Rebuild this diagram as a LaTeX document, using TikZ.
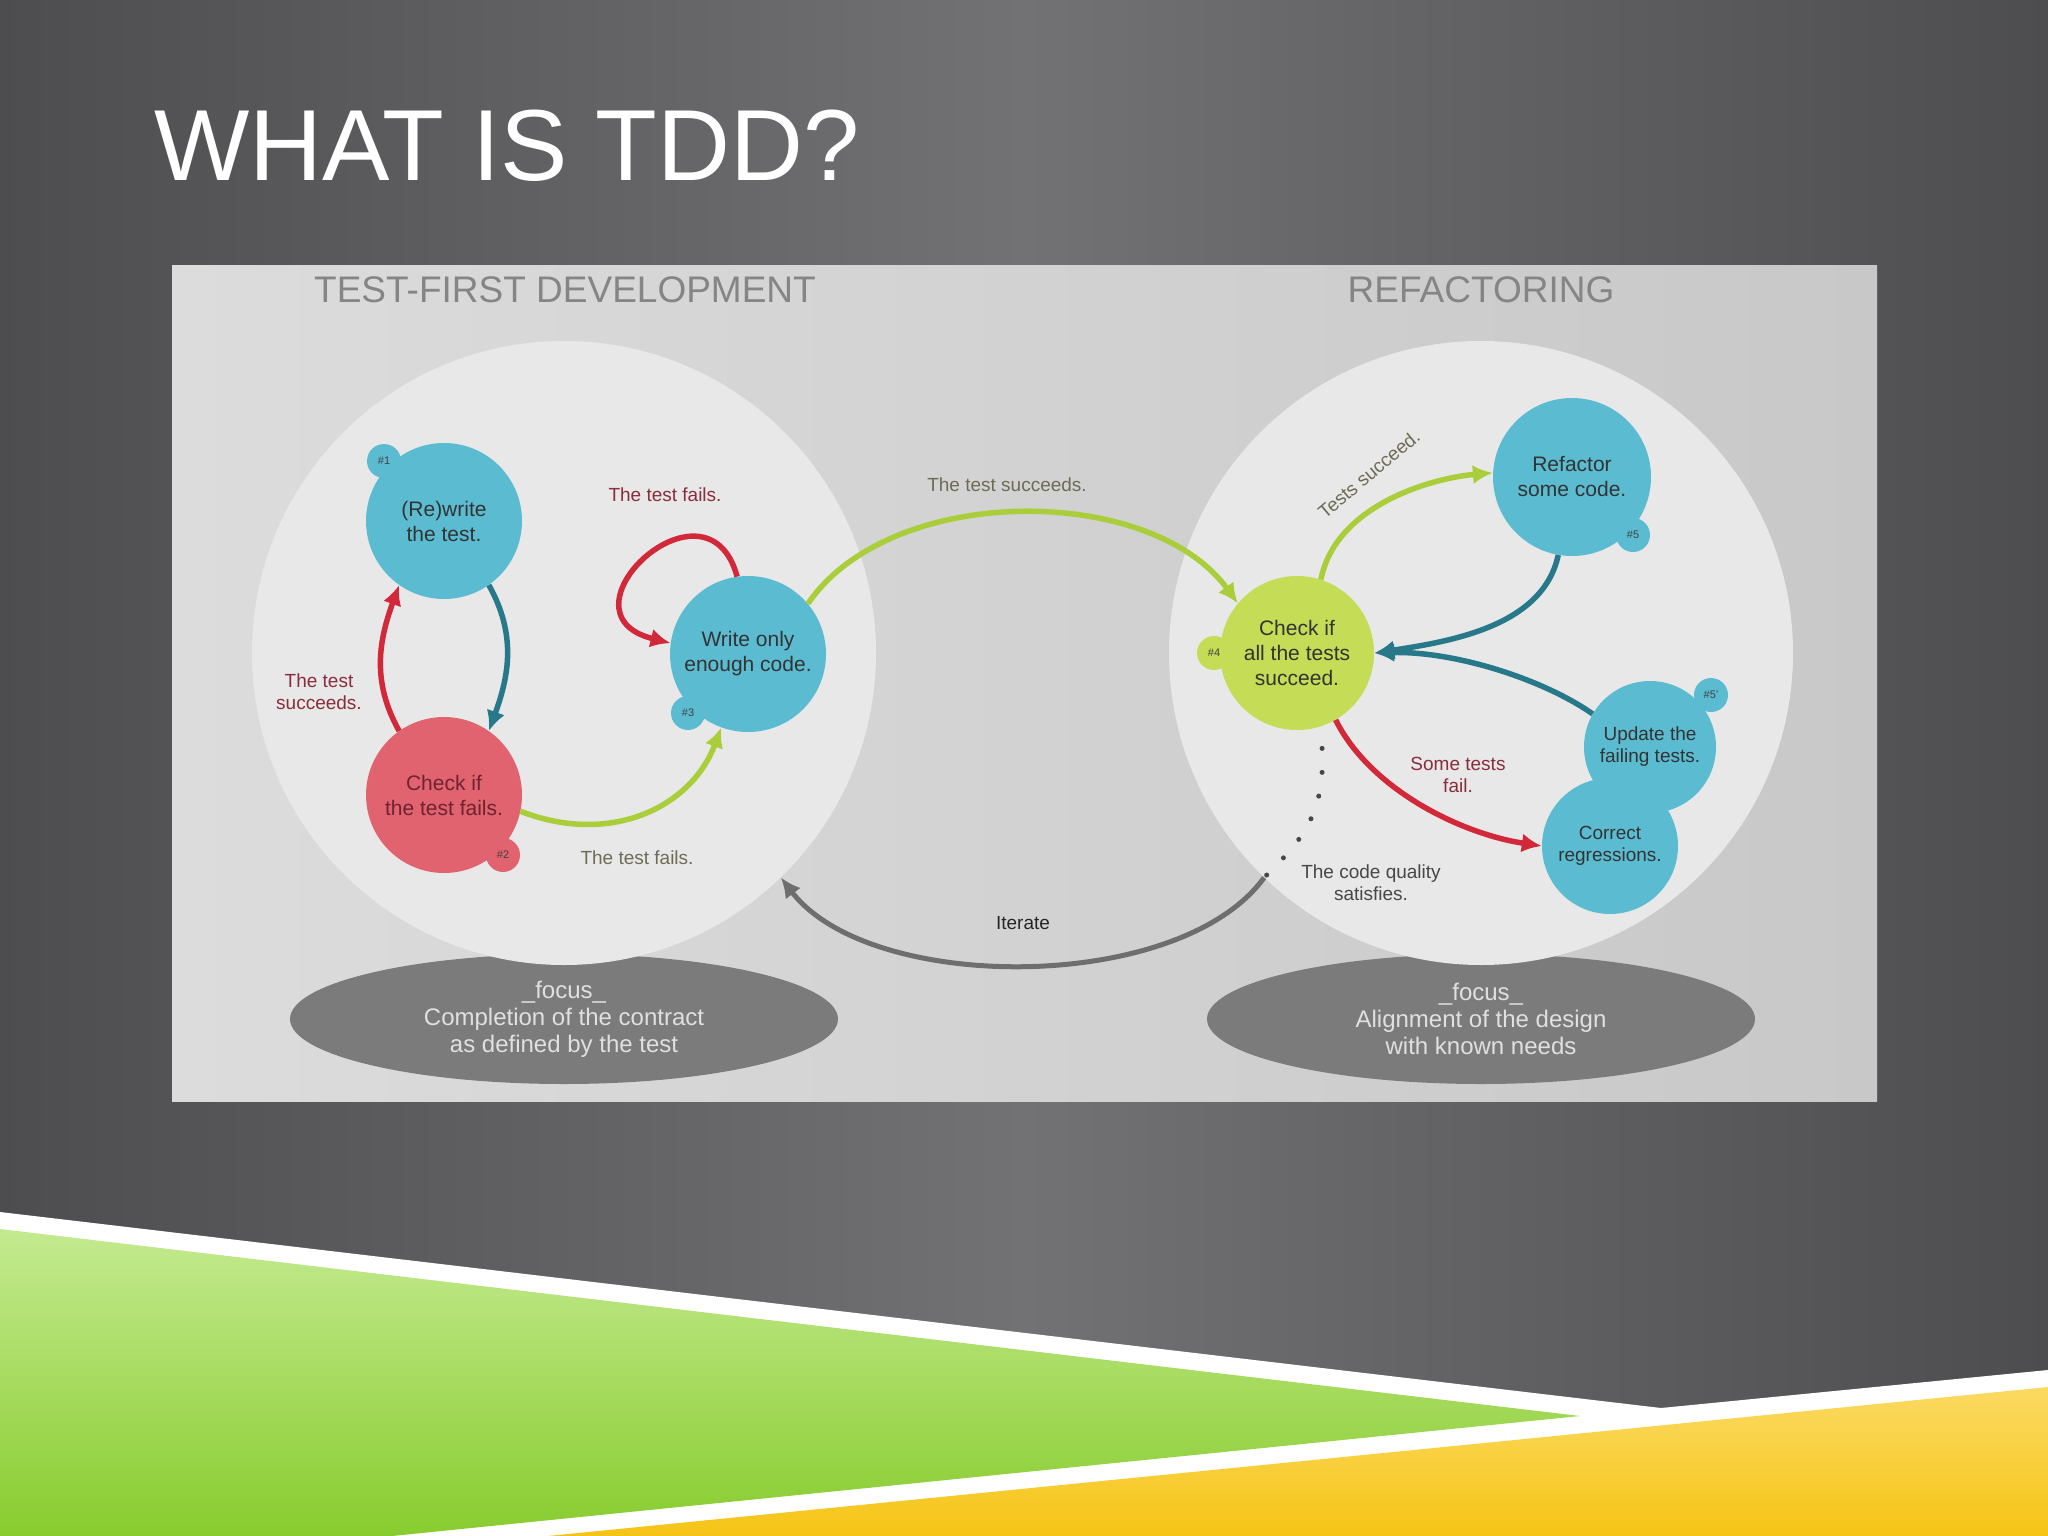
\documentclass[tikz,border=0pt]{standalone}
\usepackage{fontspec}
\setmainfont{Liberation Sans}
\usetikzlibrary{arrows.meta,shapes.geometric}

\definecolor{slidemid}{HTML}{727274}
\definecolor{slideside}{HTML}{4D4D4F}
\definecolor{panelleft}{HTML}{DCDCDC}
\definecolor{panelright}{HTML}{C8C8C8}
\definecolor{bigcirc}{HTML}{E8E8E8}
\definecolor{focusgray}{HTML}{7B7B7B}
\definecolor{stepblue}{HTML}{5BBCD1}
\definecolor{stepred}{HTML}{E0636F}
\definecolor{stepgreen}{HTML}{C4DC56}
\definecolor{arrowteal}{HTML}{27798A}
\definecolor{arrowred}{HTML}{D2293A}
\definecolor{arrowgreen}{HTML}{A9CE3A}
\definecolor{arrowgray}{HTML}{6E6E6E}
\definecolor{labelred}{HTML}{8A2C3C}
\definecolor{labelolive}{HTML}{6C6C56}
\definecolor{labeldark}{HTML}{474747}
\definecolor{headgray}{HTML}{858585}
\definecolor{greenlight}{HTML}{C4EA90}
\definecolor{greendark}{HTML}{88CC2E}
\definecolor{yellowlight}{HTML}{FBDA62}
\definecolor{yellowdark}{HTML}{F6C416}

\newcommand\fsz[2]{\fontsize{#1}{#2}\selectfont}

\tikzset{
  stepnode/.style={circle, inner sep=0pt, minimum size=#1, align=center,
    text=black!80, font=\fsz{21}{25}},
  badge/.style={circle, inner sep=0pt, minimum size=34pt, text=black!75,
    font=\fsz{11}{12}},
  bigring/.style={circle, inner sep=0pt, minimum size=624pt, fill=bigcirc},
  focusbox/.style={ellipse, inner sep=0pt, minimum width=548pt, minimum height=130pt,
    fill=focusgray, text=white!88!black, align=center, font=\fsz{24}{27}},
  flow/.style={->, line width=5.5pt},
  lbl/.style={align=center, font=\fsz{19}{22}},
}

\begin{document}
\begin{tikzpicture}[x=1pt, y=-1pt, >={Latex[length=20pt,width=19pt]}]
  %%% Slide
  \useasboundingbox (0,0) rectangle (2048,1536);
  \shade[left color=slideside, right color=slideside, middle color=slidemid]
    (0,0) rectangle (2048,1536);
  \fill[white] (0,1212) -- (1661,1408) -- (2048,1370) -- (2048,1536) -- (0,1536) -- cycle;
  \shade[top color=greenlight, bottom color=greendark]
    (0,1229) -- (1580,1416) -- (392,1536) -- (0,1536) -- cycle;
  \shade[top color=yellowlight, bottom color=yellowdark]
    (548,1536) -- (2048,1387) -- (2048,1536) -- cycle;
  \node[anchor=base west, text=white, inner sep=0pt, font=\fsz{101}{101}] (title)
    at (154,180) {WHAT IS TDD?};

  %%% Panel
  \shade[left color=panelleft, right color=panelright] (172,265) rectangle (1877,1101);
  \node[focusbox] (focusL) at (564,1019)
    {\_focus\_\\Completion of the contract\\as defined by the test};
  \node[focusbox] (focusR) at (1481,1019)
    {\_focus\_\\Alignment of the design\\with known needs};
  \node[bigring] (bigL) at (564,653) {};
  \node[bigring] (bigR) at (1481,653) {};
  \node[text=headgray, font=\fsz{37}{40}] (headL) at (565,290) {TEST-FIRST DEVELOPMENT};
  \node[text=headgray, font=\fsz{37}{40}] (headR) at (1481,290) {REFACTORING};

  %%% Steps
  \node[badge, fill=stepblue] (b1) at (384,461) {\#1};
  \node[stepnode=156pt, fill=stepblue] (rw) at (444,521) {(Re)write\\the test.};
  \node[stepnode=156pt, fill=stepred, text=labelred!80!black] (cf) at (444,795)
    {Check if\\the test fails.};
  \node[badge, fill=stepred] (b2) at (503,855) {\#2};
  \node[stepnode=156pt, fill=stepblue] (wc) at (748,654) {Write only\\enough code.};
  \node[badge, fill=stepblue] (b3) at (688,713) {\#3};
  \node[badge, fill=stepgreen] (b4) at (1214,653) {\#4};
  \node[stepnode=154pt, fill=stepgreen] (ca) at (1297,653)
    {Check if\\all the tests\\succeed.};
  \node[stepnode=158pt, fill=stepblue] (rf) at (1572,477) {Refactor\\some code.};
  \node[badge, fill=stepblue] (b5) at (1633,535) {\#5};
  \node[stepnode=132pt, fill=stepblue, font=\fsz{19}{22}] (up) at (1650,747)
    {Update the\\failing tests.};
  \node[badge, fill=stepblue] (b6) at (1711,695) {\#5'};
  \node[stepnode=136pt, fill=stepblue, font=\fsz{19}{22}] (cr) at (1610,846)
    {Correct\\regressions.};

  %%% Test-first loop
  \draw[flow, arrowteal] (rw.-55) .. controls +(28,50) and +(20,-55) .. (cf.55);
  \draw[flow, arrowred] (cf.125) .. controls +(-28,-50) and +(-20,55) .. (rw.235);
  \draw[flow, arrowgreen] (cf.-12) .. controls +(90,35) and +(-30,80) .. (wc.-110);
  \draw[flow, arrowred] (wc.98) .. controls +(-30,-110) and +(-120,-30) .. (wc.172);
  \node[lbl, text=labelred] (l1) at (319,692) {The test\\succeeds.};
  \node[lbl, text=labelolive] (l2) at (637,858) {The test fails.};
  \node[lbl, text=labelred] (l3) at (665,495) {The test fails.};

  %%% Across
  \draw[flow, arrowgreen] (wc.40) .. controls (890,483) and (1150,483) .. (ca.140);
  \node[lbl, text=labelolive] (l4) at (1007,485) {The test succeeds.};

  %%% Refactoring loop
  \draw[flow, arrowgreen] (ca.72) .. controls +(15,-75) and +(-60,5) .. (rf.177);
  \draw[flow, arrowteal] (rf.-100) .. controls +(-15,70) and +(80,-12) .. (ca.0);
  \draw[flow, arrowteal] (up.150) .. controls +(-50,-35) and +(80,-2) .. (ca.0);
  \draw[flow, arrowred] (ca.-60) .. controls +(35,70) and +(-80,-12) .. (cr.180);
  \node[lbl, text=labelolive, rotate=40] (l5) at (1369,474) {Tests succeed.};
  \node[lbl, text=labelred] (l6) at (1458,775) {Some tests\\fail.};

  %%% Iterate
  \coordinate (it) at (bigR.-134);
  \draw[labeldark, line width=5pt, line cap=round, dash pattern=on 0pt off 24pt,
    shorten <=22pt] (ca.-72) .. controls +(5,90) and +(35,-35) .. (it);
  \draw[flow, arrowgray, line width=5pt] (it) .. controls (1180,994) and (870,994) .. (bigL.-46);
  \node[lbl, text=labeldark] (l7) at (1371,883) {The code quality\\satisfies.};
  \node[lbl, text=black!85] (l8) at (1023,923) {Iterate};
\end{tikzpicture}
\end{document}
